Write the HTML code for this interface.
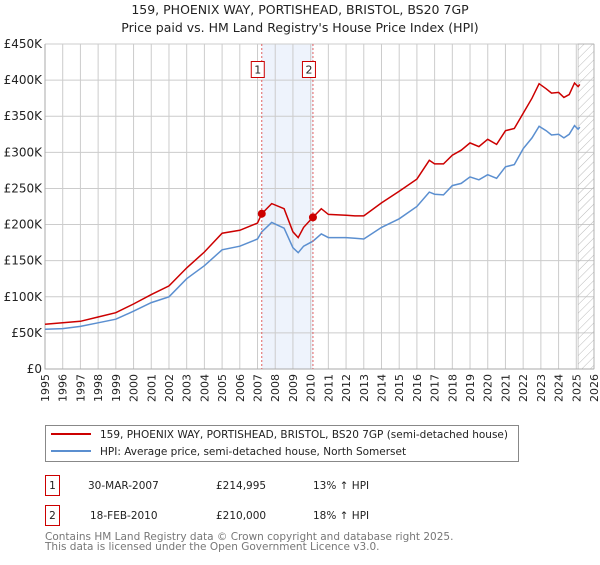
<!DOCTYPE html>
<html><head><meta charset="utf-8"><style>
body{margin:0;background:#fff;font-family:"Liberation Sans","DejaVu Sans",sans-serif;}
svg text{font-family:"DejaVu Sans","Liberation Sans",sans-serif;}
</style></head><body>
<svg id="c" width="600" height="560" xmlns="http://www.w3.org/2000/svg">
<defs><pattern id="hatch" width="6" height="6" patternUnits="userSpaceOnUse" patternTransform="rotate(45)"><line x1="0" y1="0" x2="0" y2="6" stroke="#bbb" stroke-width="1"/></pattern></defs>
<text x="300" y="14" text-anchor="middle" font-size="12.5" fill="#222">159, PHOENIX WAY, PORTISHEAD, BRISTOL, BS20 7GP</text>
<text x="300" y="32" text-anchor="middle" font-size="12.5" fill="#222">Price paid vs. HM Land Registry's House Price Index (HPI)</text>
<g id="grid"></g><g id="marks"></g>
<rect x="45.5" y="425.5" width="473" height="36" fill="#fff" stroke="#888"/>
<line x1="51" y1="434" x2="91" y2="434" stroke="#cc0000" stroke-width="2"/>
<text x="100" y="438" font-size="10.5" fill="#222">159, PHOENIX WAY, PORTISHEAD, BRISTOL, BS20 7GP (semi-detached house)</text>
<line x1="51" y1="451" x2="91" y2="451" stroke="#5b8fd0" stroke-width="2"/>
<text x="100" y="455" font-size="10.5" fill="#222">HPI: Average price, semi-detached house, North Somerset</text>
<g font-size="10.5" fill="#222">
<rect x="45.5" y="475.5" width="14" height="20" fill="#fff" stroke="#cc0000"/>
<text x="52.5" y="489" text-anchor="middle">1</text>
<text x="88" y="489">30-MAR-2007</text>
<text x="216" y="489">£214,995</text>
<text x="313" y="489">13% ↑ HPI</text>
<rect x="45.5" y="505.5" width="14" height="20" fill="#fff" stroke="#cc0000"/>
<text x="52.5" y="519" text-anchor="middle">2</text>
<text x="90" y="519">18-FEB-2010</text>
<text x="216" y="519">£210,000</text>
<text x="313" y="519">18% ↑ HPI</text>
</g>
<text x="45" y="540" font-size="10.5" fill="#777">Contains HM Land Registry data © Crown copyright and database right 2025.</text>
<text x="45" y="550" font-size="10.5" fill="#777">This data is licensed under the Open Government Licence v3.0.</text>
</svg>
<script>
const priceYears=[1995,1996,1997,1998,1999,2000,2001,2002,2003,2004,2005,2006,2007,2007.24,2007.8,2008.5,2009,2009.3,2009.6,2010.13,2010.6,2011,2012,2012.5,2013,2014,2015,2016,2016.7,2017,2017.5,2018,2018.5,2019,2019.5,2020,2020.5,2021,2021.5,2022,2022.5,2022.9,2023.3,2023.6,2024,2024.3,2024.6,2024.9,2025.1,2025.2];
const priceValues=[62,64,66,72,78,90,103,115,140,162,188,192,202,215,229,222,190,182,196,210,222,214,213,212,212,230,246,263,289,284,284,296,303,313,308,318,311,330,333,354,375,395,388,382,383,376,380,396,391,394];
const hpiValues=[55,56,59,64,69,80,92,100,125,143,165,170,180,190,203,195,168,161,170,177,187,182,182,181,180,196,208,225,245,242,241,254,257,266,262,269,264,280,283,305,320,336,330,324,325,320,325,337,332,335];
const yTicks=[0,50,100,150,200,250,300,350,400,450];
const xTicks=[1995,1996,1997,1998,1999,2000,2001,2002,2003,2004,2005,2006,2007,2008,2009,2010,2011,2012,2013,2014,2015,2016,2017,2018,2019,2020,2021,2022,2023,2024,2025,2026];
const sales=[{n:"1",year:2007.24,value:214.995},{n:"2",year:2010.13,value:210}];
const L=45,R=594,T=44,B=369;
const X=y=>L+(y-1995)/(2026-1995)*(R-L);
const Y=v=>B-v/450*(B-T);
const NS="http://www.w3.org/2000/svg";
function mk(p,t,a){const e=document.createElementNS(NS,t);for(const k in a)e.setAttribute(k,a[k]);p.appendChild(e);return e;}
const g=document.getElementById('grid'),m=document.getElementById('marks');
let band=mk(g,'rect',{x:X(sales[0].year),y:T,width:X(sales[1].year)-X(sales[0].year),height:B-T,fill:'#eef3fc'});


xTicks.forEach(t=>{
 let l=mk(g,'line',{x1:X(t),x2:X(t),y1:T,y2:B,stroke:'#ccc'});
 
 
 let tx=mk(g,'text',{x:0,y:0,'font-size':11,fill:'#222','text-anchor':'end',transform:`translate(${X(t)+4},${B+5}) rotate(-90)`});
 tx.textContent=t;
 
 
});
yTicks.forEach(t=>{
 let l=mk(g,'line',{x1:L,x2:R,y1:Y(t),y2:Y(t),stroke:'#ccc'});
 
 
 let tx=mk(g,'text',{x:L-3,y:Y(t)+4,'font-size':12,fill:'#222','text-anchor':'end'});
 tx.textContent=t===0?'£0':'£'+t+'K';
 
 
});
let h=mk(g,'rect',{x:X(2025.1),y:T,width:R-X(2025.1),height:B-T,fill:'url(#hatch)',stroke:'#999','stroke-width':0.5});


let ax=mk(g,'path',{d:`M${L},${T}V${B}H${R}`,stroke:'#aaa',fill:'none'});


function pts(vals){return priceYears.map((y,i)=>X(y).toFixed(1)+','+Y(vals[i]).toFixed(1)).join(' ');}
let hp=mk(m,'polyline',{points:pts(hpiValues),fill:'none',stroke:'#5b8fd0','stroke-width':1.5});


let pp=mk(m,'polyline',{points:pts(priceValues),fill:'none',stroke:'#cc0000','stroke-width':1.5});


sales.forEach(s=>{
 let d=mk(m,'line',{x1:X(s.year),x2:X(s.year),y1:T,y2:B,stroke:'#e06060','stroke-dasharray':'2,2'});
 
 
 let c=mk(m,'circle',{cx:X(s.year),cy:Y(s.value),r:4,fill:'#cc0000'});
 
 
 let b=mk(m,'rect',{x:X(s.year)-10.5,y:61.5,width:13,height:16,fill:'#fff',stroke:'#cc0000'});
 
 
 let t=mk(m,'text',{x:X(s.year)-4,y:73.5,'font-size':11,fill:'#222','text-anchor':'middle'});
 t.textContent=s.n;
 
 
});
</script>
</body></html>
